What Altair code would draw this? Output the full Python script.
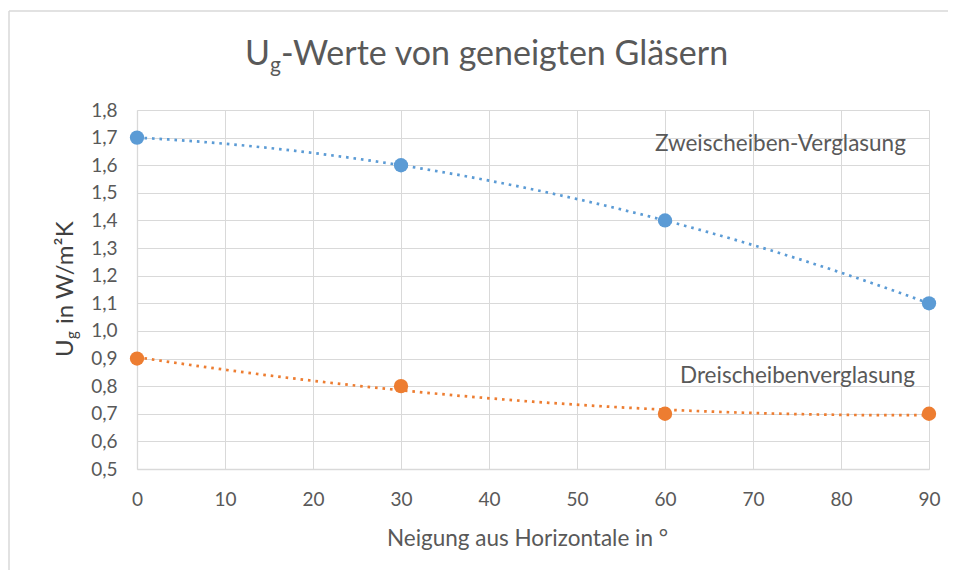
import altair as alt
import pandas as pd

# ---- data ----
angles = [0, 30, 60, 90]
zweischeiben = [1.7, 1.6, 1.4, 1.1]
dreischeiben = [0.9, 0.8, 0.7, 0.7]
series_names = ["Zweischeiben-Verglasung", "Dreischeibenverglasung"]
series_colors = ["#5B9BD5", "#ED7D31"]
x_ticks = [0, 10, 20, 30, 40, 50, 60, 70, 80, 90]
y_ticks = [0.5, 0.6, 0.7, 0.8, 0.9, 1.0, 1.1, 1.2, 1.3, 1.4, 1.5, 1.6, 1.7, 1.8]

FONT = "Lato"
GREY = "#595959"

rows = []
for name, vals in zip(series_names, [zweischeiben, dreischeiben]):
    for a, v in zip(angles, vals):
        rows.append({"Neigung": a, "U": v, "Serie": name})
df = pd.DataFrame(rows)

W, H = 792, 359

xenc = alt.X("Neigung:Q",
             scale=alt.Scale(domain=[0, 90], nice=False, zero=False),
             axis=alt.Axis(values=x_ticks, title="Neigung aus Horizontale in °",
                           labelPadding=21, titlePadding=18, format="d",
                           labelFlush=False, titleX=390))
yenc = alt.Y("U:Q",
             scale=alt.Scale(domain=[0.5, 1.8], nice=False, zero=False),
             axis=alt.Axis(values=y_ticks, title=None, labelPadding=20, labelFlush=False,
                           labelExpr="replace(format(datum.value, '.1f'), '.', ',')"))
cenc = alt.Color("Serie:N", scale=alt.Scale(domain=series_names, range=series_colors), legend=None)

base = alt.Chart(df)

trend = base.transform_regression(
    "Neigung", "U", groupby=["Serie"], method="poly", order=2
).mark_line(strokeDash=[2.6, 4.9], strokeWidth=2.7).encode(x=xenc, y=yenc, color=cenc)

points = base.mark_circle(size=205, opacity=1).encode(x=xenc, y=yenc, color=cenc)

one = pd.DataFrame({"k": [0]})
def txt(text, x, y, size, color=GREY, angle=0, weight="normal"):
    kw = dict(text=text, align="left", baseline="alphabetic", font=FONT,
              fontSize=size, color=color, fontWeight=weight)
    if angle:
        kw["angle"] = angle
    return alt.Chart(one).mark_text(**kw).encode(x=alt.value(x), y=alt.value(y))

# chart title with subscript (coordinates relative to plot origin)
title_u = txt("U", 108, -45, 34)
title_g = txt("g", 133, -38, 21)
title_rest = txt("-Werte von geneigten Gläsern", 144, -45, 34)

# y axis title with subscript, rotated
yt_u = txt("U", -64, 247, 24, color="#404040", angle=270)
yt_g = txt("g", -60, 229, 15, color="#404040", angle=270)
yt_rest = txt(" in W/m²K", -64, 214, 24, color="#404040", angle=270)

# series annotations
ann1 = txt("Zweischeiben-Verglasung", 518, 41, 22.5)
ann2 = txt("Dreischeibenverglasung", 543, 273, 22.5)

# outer chart border (left and top edges)
border_left = alt.Chart(one).mark_rule(stroke="#d9d9d9", strokeWidth=1.5).encode(
    x=alt.value(-128), y=alt.value(-99), y2=alt.value(460)
)
border_top = alt.Chart(one).mark_rule(stroke="#d9d9d9", strokeWidth=1.5).encode(
    x=alt.value(-128), x2=alt.value(811), y=alt.value(-99)
)

chart = alt.layer(
    border_left, border_top, trend, points, title_u, title_g, title_rest,
    yt_u, yt_g, yt_rest, ann1, ann2
).properties(
    width=W, height=H,
    autosize=alt.AutoSizeParams(type="none"),
    padding={"left": 129, "top": 102, "right": 20, "bottom": 102},
).configure_view(stroke=None).configure_axis(
    grid=True, gridColor="#d9d9d9", gridWidth=1,
    domainColor="#d9d9d9", domainWidth=1.3, ticks=False,
    labelFont=FONT, labelFontSize=19, labelColor=GREY,
    titleFont=FONT, titleFontSize=22.5, titleFontWeight="normal", titleColor=GREY,
)

chart.save("out.html", embed_options={"renderer": "svg", "actions": False})
